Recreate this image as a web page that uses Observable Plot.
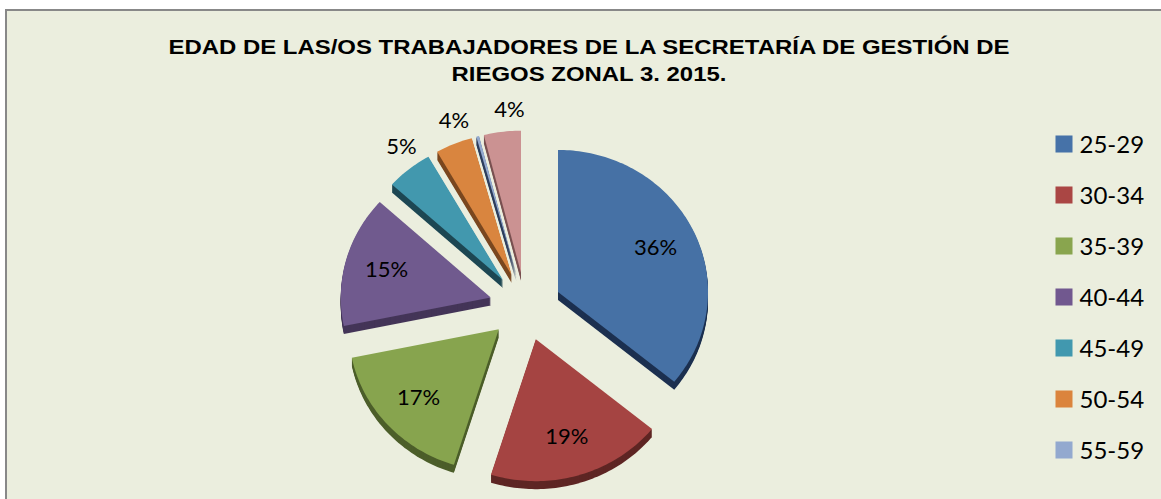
<!DOCTYPE html>
<html>
<head>
<meta charset="utf-8">
<script src="https://cdn.jsdelivr.net/npm/d3@7"></script>
<script src="https://cdn.jsdelivr.net/npm/@observablehq/plot@0.6"></script>
<style>
  html, body { margin: 0; padding: 0; background: #ffffff; }
  #wrap { position: relative; width: 1161px; height: 499px; overflow: hidden; background: #ffffff; }
  #frame { position: absolute; left: 5px; top: 9px; right: -4px; bottom: -4px;
           background: #EBEEDE; border-left: 2px solid #888888; border-top: 2px solid #888888; }
  #title { position: absolute; left: 0; width: 1178px; top: 33px; text-align: center;
           font-family: "Liberation Sans", Arial, sans-serif; font-weight: bold; font-size: 21px;
           line-height: 27px; color: #000; transform: scaleX(1.14); transform-origin: 589px 0; }
  #plot { position: absolute; left: 0; top: 0; }
</style>
</head>
<body>
<div id="wrap">
  <div id="frame"></div>
  <div id="title">EDAD DE LAS/OS TRABAJADORES DE LA SECRETARÍA DE GESTIÓN DE<br>RIEGOS ZONAL 3. 2015.</div>
  <div id="plot"></div>
</div>
<script>
// ---- data ----
const categories = ["25-29", "30-34", "35-39", "40-44", "45-49", "50-54", "55-59", "60-64"];
const values = [36, 19, 17, 15, 5, 4, 0.3, 4];
const labels = ["36%", "19%", "17%", "15%", "5%", "4%", "", "4%"];
const topColors = ["#4671A5", "#A54442", "#87A44E", "#705A8E", "#4298AE", "#D9853F", "#93A9CF", "#CB9292"];
const sideColors = ["#1C3050", "#5E2624", "#4C5E2A", "#443558", "#1D4753", "#7A4820", "#2E3F5E", "#7A5252"];
const legendColors = ["#4672A8", "#AA4644", "#89A54E", "#71588F", "#4198AF", "#DB843D", "#93A9CF", "#CB9292"];
const legendVisible = 7; // the reference image is cropped below the 7th legend entry

// ---- geometry ----
const W = 1161, H = 499, CX = 525, CY = 306;
const RX = 150, RY = 142, K = RY / RX, EXPLODE = 36, DEPTH = 8;

const arcs = d3.pie().sort(null).value(d => d)(values);

function slicePoints(a, i, off, layer) {
  const mid = (a.startAngle + a.endAngle) / 2;
  const ax = EXPLODE * Math.sin(mid);
  const ay = EXPLODE * K * Math.cos(mid) - off;
  const key = layer + "-" + i + "-" + off;
  const pts = [{key, x: ax, y: ay}];
  const n = Math.max(2, Math.ceil((a.endAngle - a.startAngle) / 0.02));
  for (let j = 0; j <= n; j++) {
    const t = a.startAngle + (a.endAngle - a.startAngle) * j / n;
    pts.push({key, x: ax + RX * Math.sin(t), y: ay + RY * Math.cos(t)});
  }
  pts.push({key, x: ax, y: ay});
  return pts;
}

const sideRows = [];
const topRows = [];
arcs.forEach((a, i) => {
  for (let off = DEPTH; off >= 1; off--) {
    slicePoints(a, i, off, "s").forEach(p => sideRows.push({...p, color: sideColors[i]}));
  }
  slicePoints(a, i, 0, "t").forEach(p => topRows.push({...p, color: topColors[i]}));
});

const labelRows = arcs.map((a, i) => {
  const mid = (a.startAngle + a.endAngle) / 2;
  const inside = values[i] >= 10;
  const f = inside ? 0.72 : 1.17;
  const shift = inside ? 0 : 0.06; // outside labels sit slightly clockwise
  const m = mid + shift;
  return {
    text: labels[i],
    x: EXPLODE * Math.sin(mid) + f * RX * Math.sin(m),
    y: EXPLODE * K * Math.cos(mid) + f * RY * Math.cos(m) - (inside ? 0 : 3)
  };
}).filter(d => d.text);

// legend rows (in pixel offsets from the pie centre)
const legendRows = categories.slice(0, legendVisible).map((c, i) => ({
  name: c, color: legendColors[i],
  x: 1063.5 - CX, y: CY - (143.5 + 51 * i)
}));

const chart = Plot.plot({
  width: W, height: H,
  margin: 0,
  x: {domain: [-CX, W - CX], axis: null},
  y: {domain: [CY - H, CY], axis: null},
  color: {type: "identity"},
  style: {background: "transparent", overflow: "hidden"},
  marks: [
    Plot.line(sideRows, {x: "x", y: "y", z: "key", fill: "color", stroke: null, curve: "linear"}),
    Plot.line(topRows, {x: "x", y: "y", z: "key", fill: "color", stroke: null, curve: "linear"}),
    Plot.text(labelRows, {x: "x", y: "y", text: "text", fontSize: 22,
      fontFamily: "Lato, 'Open Sans', sans-serif", fill: "#000"}),
    Plot.dot(legendRows, {x: "x", y: "y", symbol: "square", r: 9.6, fill: "color", stroke: null}),
    Plot.text(legendRows, {x: "x", y: "y", text: "name", dx: 15.5, dy: 1, textAnchor: "start",
      fontSize: 24, fontFamily: "Lato, 'Open Sans', sans-serif", fill: "#000"})
  ]
});
document.getElementById("plot").appendChild(chart);
</script>
</body>
</html>
